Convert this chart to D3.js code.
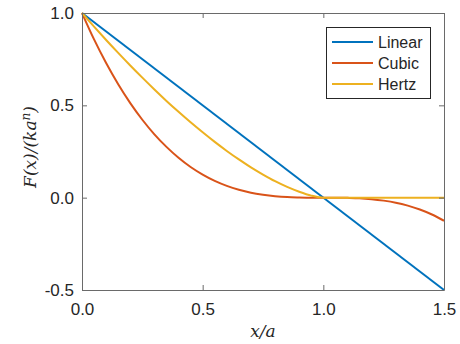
<!DOCTYPE html>
<html>
<head>
<meta charset="utf-8">
<script src="https://cdn.jsdelivr.net/npm/d3@7"></script>
<style>
  html, body { margin: 0; padding: 0; background: #fff; }
  svg text { font-family: "Liberation Sans", Arial, sans-serif; fill: #262626; }
  .lbl { font-family: "DejaVu Serif", "Liberation Serif", serif; font-style: italic; }
</style>
</head>
<body>
<svg id="chart" width="460" height="344"></svg>
<script>
// values
const xs = [0, 0.05, 0.1, 0.15, 0.2, 0.25, 0.3, 0.35, 0.4, 0.45, 0.5, 0.55, 0.6, 0.65, 0.7, 0.75,
  0.8, 0.85, 0.9, 0.95, 1.0, 1.05, 1.1, 1.15, 1.2, 1.25, 1.3, 1.35, 1.4, 1.45, 1.5];
const linearX = [0, 1.5];
const linearY = [1.0, -0.5];
const cubicY = [1, 0.857, 0.729, 0.614, 0.512, 0.422, 0.343, 0.275, 0.216, 0.166, 0.125, 0.091,
  0.064, 0.043, 0.027, 0.016, 0.008, 0.003, 0.001, 0, 0, 0, -0.001, -0.003, -0.008, -0.016,
  -0.027, -0.043, -0.064, -0.091, -0.125];
const hertzY = [1, 0.926, 0.854, 0.784, 0.716, 0.65, 0.586, 0.524, 0.465, 0.408, 0.354, 0.302,
  0.253, 0.207, 0.164, 0.125, 0.089, 0.058, 0.032, 0.011, 0, 0, 0, 0, 0, 0, 0, 0, 0, 0, 0];
const xTicks = [0, 0.5, 1.0, 1.5];
const yTicks = [-0.5, 0, 0.5, 1.0];
const names = ["Linear", "Cubic", "Hertz"];
const colors = ["#0072BD", "#D95319", "#EDB120"];

const svg = d3.select("#chart");
const L = 82, R = 444, T = 13, B = 290;
const x = d3.scaleLinear().domain([0, 1.5]).range([L, R]);
const y = d3.scaleLinear().domain([-0.5, 1.0]).range([B, T]);
const axisCol = "#6a6a6a";

const series = [
  linearX.map((v, i) => [v, linearY[i]]),
  xs.map((v, i) => [v, cubicY[i]]),
  xs.map((v, i) => [v, hertzY[i]])
];

const line = d3.line().x(d => x(d[0])).y(d => y(d[1])).curve(d3.curveMonotoneX);
series.forEach((s, i) => {
  svg.append("path").datum(s)
    .attr("d", line)
    .attr("fill", "none")
    .attr("stroke", colors[i])
    .attr("stroke-width", 2);
});

// axes with inward ticks
const gx = svg.append("g").attr("transform", `translate(0,${B})`)
  .call(d3.axisBottom(x).tickValues(xTicks).tickFormat(d3.format(".1f")).tickSizeInner(-5).tickSizeOuter(0).tickPadding(13));
const gx2 = svg.append("g").attr("transform", `translate(0,${T})`)
  .call(d3.axisTop(x).tickValues(xTicks).tickFormat("").tickSizeInner(-5).tickSizeOuter(0));
const gy = svg.append("g").attr("transform", `translate(${L},0)`)
  .call(d3.axisLeft(y).tickValues(yTicks).tickFormat(d => d3.format(".1f")(d).replace("−", "-")).tickSizeInner(-5).tickSizeOuter(0).tickPadding(8));
const gy2 = svg.append("g").attr("transform", `translate(${R},0)`)
  .call(d3.axisRight(y).tickValues(yTicks).tickFormat("").tickSizeInner(-5).tickSizeOuter(0));
[gx, gx2, gy, gy2].forEach(g => {
  g.selectAll("path, line").attr("stroke", axisCol);
  g.selectAll("text").attr("font-size", 17).attr("fill", "#262626")
    .attr("font-family", "Liberation Sans, Arial, sans-serif");
});

// axis labels
svg.append("text").attr("class", "lbl")
  .attr("x", 263).attr("y", 337).attr("text-anchor", "middle").attr("font-size", 17)
  .text("x/a");
const yl = svg.append("text").attr("class", "lbl")
  .attr("transform", "translate(36,147) rotate(-90)")
  .attr("text-anchor", "middle").attr("font-size", 17);
yl.append("tspan").text("F(x)/(ka");
yl.append("tspan").attr("dy", -6).attr("font-size", 12).text("n");
yl.append("tspan").attr("dy", 6).text(")");

// legend
const lg = svg.append("g");
lg.append("rect").attr("x", 326.5).attr("y", 27.5).attr("width", 104).attr("height", 71)
  .attr("fill", "#fff").attr("stroke", "#262626").attr("stroke-width", 1);
names.forEach((n, i) => {
  const yy = 42 + i * 21;
  lg.append("line").attr("x1", 332).attr("x2", 373).attr("y1", yy).attr("y2", yy)
    .attr("stroke", colors[i]).attr("stroke-width", 2);
  lg.append("text").attr("x", 378).attr("y", yy + 6).attr("font-size", 16).text(n);
});
</script>
</body>
</html>
